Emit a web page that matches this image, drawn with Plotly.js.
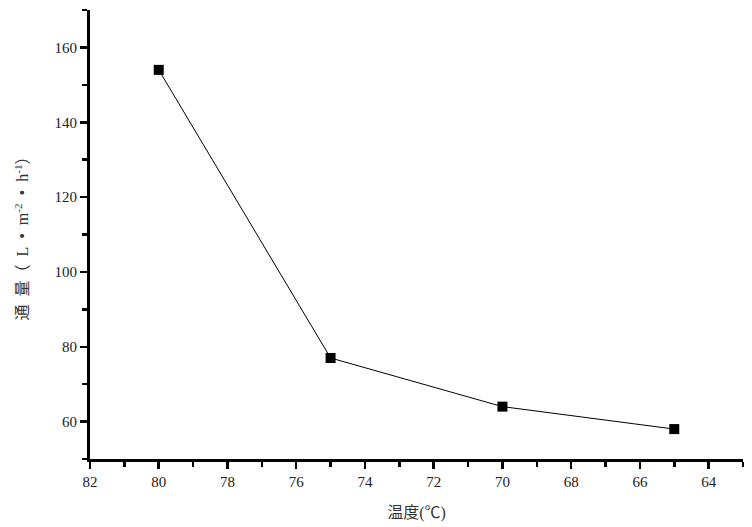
<!DOCTYPE html>
<html>
<head>
<meta charset="utf-8">
<script src="https://cdn.plot.ly/plotly-3.0.1.min.js"></script>
<style>html,body{margin:0;padding:0;background:#fff;}#chart{width:752px;height:527px;}</style>
</head>
<body>
<div id="chart"></div>
<script>
const temperature = [80, 75, 70, 65];
const flux = [154, 77, 64, 58];
const xTickVals = [82, 80, 78, 76, 74, 72, 70, 68, 66, 64];
const yTickVals = [60, 80, 100, 120, 140, 160];

const fontFamily = 'Liberation Serif, DejaVu Serif, serif';
const titleFamily = 'Liberation Serif, Noto Sans CJK SC, serif';
const sp = '\u2002';

const trace = {
  x: temperature,
  y: flux,
  mode: 'lines+markers',
  type: 'scatter',
  line: {color: '#000', width: 1},
  marker: {symbol: 'square', size: 10, color: '#000'},
  showlegend: false
};

const layout = {
  width: 752,
  height: 527,
  margin: {l: 90, r: 9, t: 10, b: 68},
  paper_bgcolor: '#fff',
  plot_bgcolor: '#fff',
  font: {family: fontFamily, size: 15, color: '#000'},
  xaxis: {
    range: [82, 63],
    tickvals: xTickVals,
    ticks: 'outside',
    ticklen: 7,
    tickwidth: 2.5,
    tickcolor: '#000',
    showline: true,
    linecolor: '#000',
    linewidth: 3,
    showgrid: false,
    zeroline: false,
    minor: {dtick: 1, tick0: 0, ticks: 'outside', ticklen: 5, tickwidth: 2.5, tickcolor: '#000', showgrid: false},
    tickfont: {family: fontFamily, size: 15, color: '#222'},
    title: {text: '温度(℃)', font: {family: titleFamily, size: 16, color: '#333'}, standoff: 18}
  },
  yaxis: {
    range: [50, 170],
    tickvals: yTickVals,
    ticks: 'outside',
    ticklen: 7,
    tickwidth: 2.5,
    tickcolor: '#000',
    showline: true,
    linecolor: '#000',
    linewidth: 3,
    showgrid: false,
    zeroline: false,
    minor: {dtick: 10, tick0: 0, ticks: 'outside', ticklen: 5, tickwidth: 2.5, tickcolor: '#000', showgrid: false},
    tickfont: {family: fontFamily, size: 15, color: '#222'},
    title: {
      text: '通' + sp + '量（' + sp + 'L' + sp + '•' + sp + 'm<sup>-2</sup>' + sp + '•' + sp + 'h<sup>-1</sup>）',
      font: {family: titleFamily, size: 16, color: '#333'},
      standoff: 22
    }
  }
};

Plotly.newPlot('chart', [trace], layout, {displayModeBar: false, staticPlot: true});
</script>
</body>
</html>
